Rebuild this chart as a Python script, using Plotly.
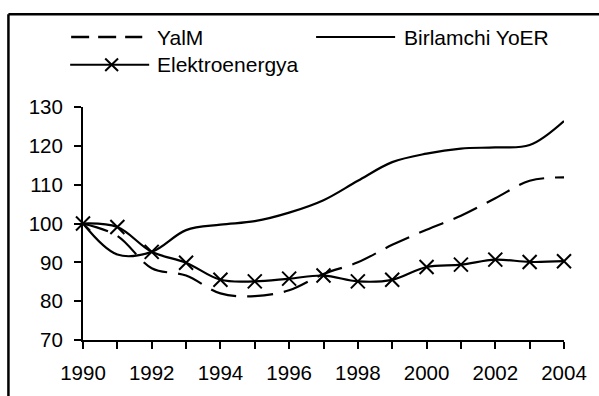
import plotly.graph_objects as go

# Index values, 1990 = 100
years = list(range(1990, 2005))
yalm = [100, 96.8, 88.5, 86.6, 82.0, 81.3, 82.8, 87.0, 90.0, 94.5, 98.4, 102.0, 106.5, 111.0, 111.9]
birlamchi = [100, 92.0, 92.7, 98.3, 99.7, 100.6, 102.8, 106.0, 111.0, 115.8, 118.0, 119.3, 119.6, 120.2, 126.4]
elektro = [100, 99.1, 92.7, 89.9, 85.5, 85.1, 85.8, 86.6, 85.1, 85.5, 88.8, 89.4, 90.7, 90.1, 90.3]

series_names = ["YalM", "Birlamchi YoER", "Elektroenergya"]
x_tick_vals = years
x_tick_text = [str(y) if y % 2 == 0 else "" for y in years]
y_tick_vals = [70, 80, 90, 100, 110, 120, 130]

W, H = 599, 396
L, R, T, B = 83, 570, 107, 347  # plot area in pixels
FAMILY = "Liberation Sans, Arial, sans-serif"
TICK_FONT = dict(family=FAMILY, size=20.5, color="black")
LEGEND_FONT = dict(family=FAMILY, size=21, color="black")


def px(x):
    return (x - L) / (R - L)


def py(y):
    return (B - y) / (B - T)


fig = go.Figure()

fig.add_trace(go.Scatter(
    x=years, y=yalm, name=series_names[0], mode="lines",
    line=dict(color="black", width=2.2, dash="26px,11px", shape="spline", smoothing=1),
    cliponaxis=False,
))
fig.add_trace(go.Scatter(
    x=years, y=birlamchi, name=series_names[1], mode="lines",
    line=dict(color="black", width=2.2, shape="spline", smoothing=1),
    cliponaxis=False,
))
fig.add_trace(go.Scatter(
    x=years, y=elektro, name=series_names[2], mode="lines+markers",
    line=dict(color="black", width=2.2, shape="spline", smoothing=1),
    marker=dict(symbol="x-thin", size=14, color="black", line=dict(color="black", width=2)),
    cliponaxis=False,
))

shapes = []
# outer frame (top and left edges)
shapes.append(dict(type="line", xref="paper", yref="paper",
                   x0=px(7.5), y0=py(11.5), x1=px(640), y1=py(11.5),
                   line=dict(color="black", width=2.5)))
shapes.append(dict(type="line", xref="paper", yref="paper",
                   x0=px(7.5), y0=py(11.5), x1=px(7.5), y1=py(440),
                   line=dict(color="black", width=2.5)))

# legend samples
shapes.append(dict(type="line", xref="paper", yref="paper",
                   x0=px(71), y0=py(35), x1=px(143), y1=py(35),
                   line=dict(color="black", width=2.5, dash="18px,9px")))
shapes.append(dict(type="line", xref="paper", yref="paper",
                   x0=px(319), y0=py(35), x1=px(399), y1=py(35),
                   line=dict(color="black", width=2)))
shapes.append(dict(type="line", xref="paper", yref="paper",
                   x0=px(70), y0=py(63.5), x1=px(150), y1=py(63.5),
                   line=dict(color="black", width=2)))
cx, cy, r = 112, 63.5, 6.5
shapes.append(dict(type="path", xref="paper", yref="paper",
                   path=f"M {px(cx - r)} {py(cy - r)} L {px(cx + r)} {py(cy + r)} "
                        f"M {px(cx - r)} {py(cy + r)} L {px(cx + r)} {py(cy - r)}",
                   line=dict(color="black", width=2)))

annotations = [
    dict(text=series_names[0], x=px(156), y=py(35), xref="paper", yref="paper",
         xanchor="left", yanchor="middle", showarrow=False, font=LEGEND_FONT),
    dict(text=series_names[1], x=px(406), y=py(35), xref="paper", yref="paper",
         xanchor="left", yanchor="middle", showarrow=False, font=LEGEND_FONT),
    dict(text=series_names[2], x=px(156), y=py(63.5), xref="paper", yref="paper",
         xanchor="left", yanchor="middle", showarrow=False, font=LEGEND_FONT),
]

fig.update_layout(
    width=W, height=H,
    margin=dict(l=L, r=W - R, t=T, b=H - B, pad=0),
    paper_bgcolor="white", plot_bgcolor="white",
    showlegend=False,
    font=TICK_FONT,
    shapes=shapes,
    annotations=annotations,
)
fig.update_xaxes(
    range=[1990, 2004], tickvals=x_tick_vals, ticktext=x_tick_text,
    showgrid=False, zeroline=False, showline=True, linecolor="black", linewidth=2,
    ticks="outside", ticklen=7, tickwidth=2, tickcolor="black",
    ticklabelstandoff=6, tickfont=TICK_FONT,
)
fig.update_yaxes(
    range=[70, 130], tickvals=y_tick_vals,
    showgrid=False, zeroline=False, showline=True, linecolor="black", linewidth=2,
    ticks="outside", ticklen=7, tickwidth=2, tickcolor="black",
    ticklabelstandoff=7, tickfont=TICK_FONT,
)

fig.write_html("out.html")
